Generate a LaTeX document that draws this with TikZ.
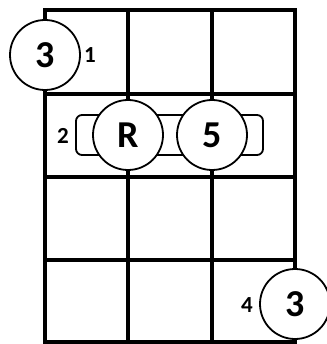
\documentclass[tikz,border=0pt]{standalone}
\usepackage{fontspec}
\setmainfont{Carlito}
\usetikzlibrary{positioning}

\begin{document}
\begin{tikzpicture}[
  x=1pt,y=-1pt,
  fret/.style  ={line width=4pt,line cap=rect},
  finger/.style={circle,draw,line width=1.8pt,fill=white,inner sep=0pt,
                 minimum size=70pt,font=\bfseries\fontsize{38pt}{38pt}\selectfont},
  barre/.style ={draw,line width=1.8pt,fill=white,rounded corners=6pt,
                 minimum width=187pt,minimum height=40pt},
  fnum/.style  ={font=\bfseries\fontsize{23pt}{23pt}\selectfont,inner sep=0pt}
]
\useasboundingbox (0,0) rectangle (326,344);
% grid
\foreach \y in {10,94,177,260,342} \draw[fret] (45,\y) -- (295,\y);
\foreach \x in {45,128,212,295} \draw[fret] (\x,10) -- (\x,342);
% barre and fingers
\node[barre]  (B)  at (169.5,135) {};
\node[finger] (F1) at (45,55)   {3};
\node[finger] (F2) at (128,135) {R};
\node[finger] (F3) at (212,135) {5};
\node[finger] (F4) at (295,304) {3};
\node[fnum]   (N1) at (90,55)   {1};
\node[fnum]   (N2) at (63,136)  {2};
\node[fnum]   (N4) at (247,305) {4};
\end{tikzpicture}
\end{document}
